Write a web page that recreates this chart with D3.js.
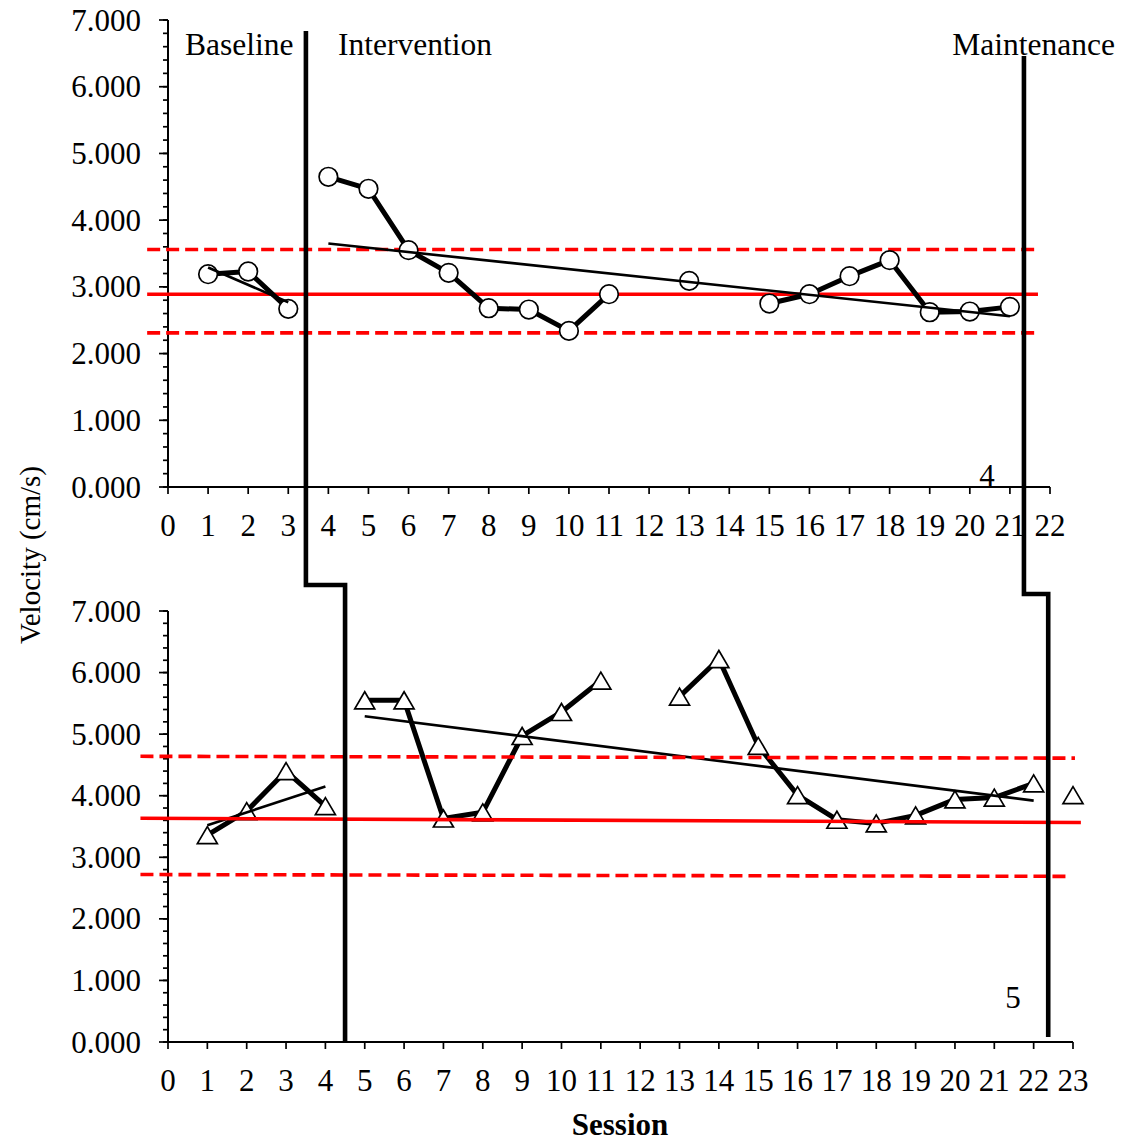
<!DOCTYPE html>
<html>
<head>
<meta charset="utf-8">
<script src="https://cdn.jsdelivr.net/npm/d3@7"></script>
<style>
  html, body { margin: 0; padding: 0; background: #fff; }
  svg { display: block; }
  text { font-family: "Liberation Serif", "Times New Roman", serif; fill: #000; }
</style>
</head>
<body>
<svg id="chart" width="1128" height="1143"></svg>
<script>
// ---- Participant 4 (circles) ----
const p4BaseSessions = [1, 2, 3];
const p4BaseValues   = [3.19, 3.23, 2.67];
const p4IntSessions  = [4, 5, 6, 7, 8, 9, 10, 11, 12, 13, 14, 15, 16, 17, 18, 19, 20, 21];
const p4IntValues    = [4.65, 4.47, 3.55, 3.21, 2.68, 2.66, 2.34, 2.89, null, 3.09, null, 2.75, 2.89, 3.16, 3.40, 2.62, 2.63, 2.70];
const p4BaseTrend    = { sessions: [1, 3], values: [3.29, 2.77] };
const p4IntTrend     = { sessions: [4, 21], values: [3.65, 2.56] };
// mean and band lines: [start session, end session] / [start value, end value]
const p4BandSessions = [-0.52, 21.7];
const p4Mean         = [2.89, 2.89];
const p4Upper        = [3.56, 3.56];
const p4Lower        = [2.31, 2.31];

// ---- Participant 5 (triangles) ----
const p5BaseSessions = [1, 2, 3, 4];
const p5BaseValues   = [3.36, 3.75, 4.40, 3.83];
const p5IntSessions  = [5, 6, 7, 8, 9, 10, 11, 12, 13, 14, 15, 16, 17, 18, 19, 20, 21, 22];
const p5IntValues    = [5.55, 5.55, 3.63, 3.73, 4.97, 5.36, 5.87, null, 5.61, 6.22, 4.81, 4.01, 3.61, 3.55, 3.68, 3.94, 3.97, 4.20];
const p5MaintSessions = [23];
const p5MaintValues   = [4.01];
const p5BaseTrend    = { sessions: [1, 4], values: [3.52, 4.15] };
const p5IntTrend     = { sessions: [5, 22], values: [5.29, 3.92] };
const p5MeanSessions = [-0.7, 23.2];
const p5Mean         = [3.635, 3.565];
const p5UpperSessions = [-0.7, 23.05];
const p5Upper        = [4.64, 4.61];
const p5LowerSessions = [-0.7, 22.95];
const p5Lower        = [2.72, 2.69];

// ---- axes ----
const yTicks = [0, 1, 2, 3, 4, 5, 6, 7];
const topXTicks = d3.range(0, 23);      // 0..22
const botXTicks = d3.range(0, 24);      // 0..23
const phaseNames = ["Baseline", "Intervention", "Maintenance"];
// phase change positions (session units) in each panel
const phase1 = { top: 3.44, bottom: 4.5 };
const phase2 = { top: 21.35, bottom: 22.37 };

const svg = d3.select("#chart");

const topX = d3.scaleLinear().domain([0, 22]).range([168, 1050]);
const topY = d3.scaleLinear().domain([0, 7]).range([487, 20]);
const botX = d3.scaleLinear().domain([0, 23]).range([168, 1073]);
const botY = d3.scaleLinear().domain([0, 7]).range([1042, 611]);

const fmt = d3.format(".3f");

function drawAxes(g, x, y, xTicks, labelBaseline) {
  const [x0] = x.range();
  const [yb, yt] = y.range();
  // y axis line
  g.append("line").attr("x1", x0).attr("x2", x0).attr("y1", yt).attr("y2", yb)
    .attr("stroke", "#000").attr("stroke-width", 2);
  // minor ticks every 0.2
  const minor = d3.range(0, 7.0001, 0.2);
  g.selectAll(null).data(minor).join("line")
    .attr("x1", x0 - 5).attr("x2", x0)
    .attr("y1", d => y(d)).attr("y2", d => y(d))
    .attr("stroke", "#000").attr("stroke-width", 1.7);
  g.selectAll(null).data(yTicks).join("line")
    .attr("x1", x0 - 9).attr("x2", x0)
    .attr("y1", d => y(d)).attr("y2", d => y(d))
    .attr("stroke", "#000").attr("stroke-width", 1.7);
  g.selectAll(null).data(yTicks).join("text")
    .attr("x", x0 - 27).attr("y", d => y(d)).attr("dy", "0.34em")
    .attr("text-anchor", "end").style("font-size", "31px")
    .text(d => fmt(d));
  // x axis line
  g.append("line").attr("x1", x0).attr("x2", x.range()[1]).attr("y1", yb).attr("y2", yb)
    .attr("stroke", "#000").attr("stroke-width", 2);
  g.selectAll(null).data(xTicks).join("line")
    .attr("x1", d => x(d)).attr("x2", d => x(d))
    .attr("y1", yb).attr("y2", yb + 7)
    .attr("stroke", "#000").attr("stroke-width", 1.7);
  g.selectAll(null).data(xTicks).join("text")
    .attr("x", d => x(d)).attr("y", labelBaseline)
    .attr("text-anchor", "middle").style("font-size", "31px")
    .text(d => d);
}

function pts(sessions, values) {
  return sessions.map((s, i) => ({ s, v: values[i] }));
}

function drawSeries(g, x, y, data) {
  const line = d3.line().defined(d => d.v != null).x(d => x(d.s)).y(d => y(d.v));
  g.append("path").attr("d", line(data))
    .attr("fill", "none").attr("stroke", "#000").attr("stroke-width", 5)
    .attr("stroke-linejoin", "round");
}

function drawCircles(g, x, y, data) {
  g.selectAll(null).data(data.filter(d => d.v != null)).join("circle")
    .attr("cx", d => x(d.s)).attr("cy", d => y(d.v)).attr("r", 9.3)
    .attr("fill", "#fff").attr("stroke", "#000").attr("stroke-width", 1.7);
}

function drawTriangles(g, x, y, data) {
  const side = 20, h = 17;
  g.selectAll(null).data(data.filter(d => d.v != null)).join("path")
    .attr("d", d => {
      const cx = x(d.s), cy = y(d.v);
      const p = d3.path();
      p.moveTo(cx, cy - h / 2);
      p.lineTo(cx + side / 2, cy + h / 2);
      p.lineTo(cx - side / 2, cy + h / 2);
      p.closePath();
      return p.toString();
    })
    .attr("fill", "#fff").attr("stroke", "#000").attr("stroke-width", 1.7)
    .attr("stroke-linejoin", "miter");
}

function drawTrend(g, x, y, t) {
  g.append("line")
    .attr("x1", x(t.sessions[0])).attr("y1", y(t.values[0]))
    .attr("x2", x(t.sessions[1])).attr("y2", y(t.values[1]))
    .attr("stroke", "#000").attr("stroke-width", 2.6);
}

function drawBand(g, x, y, sessions, values, dashed) {
  g.append("line")
    .attr("x1", x(sessions[0])).attr("y1", y(values[0]))
    .attr("x2", x(sessions[1])).attr("y2", y(values[1]))
    .attr("stroke", "#ff0000").attr("stroke-width", 3.6)
    .attr("stroke-dasharray", dashed ? "13,6" : null);
}

// ---------- top panel ----------
const gTop = svg.append("g");
drawAxes(gTop, topX, topY, topXTicks, 536);
drawBand(gTop, topX, topY, p4BandSessions, p4Upper, true);
drawBand(gTop, topX, topY, p4BandSessions, p4Lower, true);
drawBand(gTop, topX, topY, p4BandSessions, p4Mean, false);
const p4Base = pts(p4BaseSessions, p4BaseValues);
const p4Int = pts(p4IntSessions, p4IntValues);
drawSeries(gTop, topX, topY, p4Base);
drawSeries(gTop, topX, topY, p4Int);
drawCircles(gTop, topX, topY, p4Base);
drawCircles(gTop, topX, topY, p4Int);
drawTrend(gTop, topX, topY, p4BaseTrend);
drawTrend(gTop, topX, topY, p4IntTrend);

// ---------- bottom panel ----------
const gBot = svg.append("g");
drawAxes(gBot, botX, botY, botXTicks, 1091);
const p5Base = pts(p5BaseSessions, p5BaseValues);
const p5Int = pts(p5IntSessions, p5IntValues);
const p5Maint = pts(p5MaintSessions, p5MaintValues);
drawSeries(gBot, botX, botY, p5Base);
drawSeries(gBot, botX, botY, p5Int);
drawTriangles(gBot, botX, botY, p5Base);
drawTriangles(gBot, botX, botY, p5Int);
drawTriangles(gBot, botX, botY, p5Maint);
drawTrend(gBot, botX, botY, p5BaseTrend);
drawTrend(gBot, botX, botY, p5IntTrend);
drawBand(gBot, botX, botY, p5UpperSessions, p5Upper, true);
drawBand(gBot, botX, botY, p5LowerSessions, p5Lower, true);
drawBand(gBot, botX, botY, p5MeanSessions, p5Mean, false);

// ---------- phase change lines spanning both panels ----------
function phasePath(ph, topStart, stepY, botEnd) {
  const p = d3.path();
  p.moveTo(topX(ph.top), topStart);
  p.lineTo(topX(ph.top), stepY);
  p.lineTo(botX(ph.bottom), stepY);
  p.lineTo(botX(ph.bottom), botEnd);
  return p.toString();
}
svg.append("path").attr("d", phasePath(phase1, 31, 585, botY(0)))
  .attr("fill", "none").attr("stroke", "#000").attr("stroke-width", 4.6)
  .attr("stroke-linejoin", "miter");
svg.append("path").attr("d", phasePath(phase2, 56, 594, botY(0) - 5))
  .attr("fill", "none").attr("stroke", "#000").attr("stroke-width", 4.6)
  .attr("stroke-linejoin", "miter");

// phase labels
svg.append("text").attr("x", 185).attr("y", 55).style("font-size", "31.5px").text(phaseNames[0]);
svg.append("text").attr("x", 338).attr("y", 55).style("font-size", "31.5px").text(phaseNames[1]);
svg.append("text").attr("x", 1115).attr("y", 55).attr("text-anchor", "end").style("font-size", "31.5px").text(phaseNames[2]);

// participant numbers
svg.append("text").attr("x", 987).attr("y", 486).attr("text-anchor", "middle").style("font-size", "31px").text("4");
svg.append("text").attr("x", 1013).attr("y", 1008).attr("text-anchor", "middle").style("font-size", "31px").text("5");

// axis titles
svg.append("text").attr("transform", "translate(40,555) rotate(-90)")
  .attr("text-anchor", "middle").style("font-size", "29px").text("Velocity (cm/s)");
svg.append("text").attr("x", 620).attr("y", 1135)
  .attr("text-anchor", "middle").style("font-size", "31px").style("font-weight", "bold").text("Session");
</script>
</body>
</html>
